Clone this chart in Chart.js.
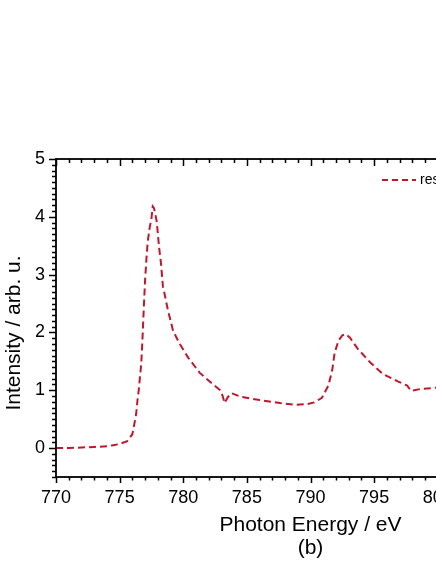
<!DOCTYPE html>
<html>
<head>
<meta charset="utf-8">
<script src="https://cdn.jsdelivr.net/npm/chart.js@4.4.7/dist/chart.umd.min.js"></script>
<style>
  html, body { margin: 0; padding: 0; background: #fff; overflow: hidden; }
  #wrap { position: relative; width: 620px; height: 564px; }
</style>
</head>
<body>
<div id="wrap"><canvas id="chart"></canvas></div>
<script>
const energies = [770, 771, 772, 773, 774, 774.5, 775, 775.6, 776.0, 776.1, 776.3, 776.4, 776.5, 776.7, 776.8, 776.9,
  777.0, 777.1, 777.2, 777.35, 777.5, 777.6, 777.7, 777.9, 778.0, 778.1, 778.25, 778.4, 778.5, 778.8, 779.2, 779.7,
  780.4, 781.3, 782.3, 782.9, 783.1, 783.25, 783.5, 783.8, 784.5, 786, 787.6, 788.8, 789.7, 790.3, 790.9, 791.4,
  791.7, 791.9, 792.2, 792.5, 792.8, 793.1, 793.7, 794.7, 795.7, 796.9, 797.6, 797.9, 798.6, 799.6, 800.5, 801.5]
const intensities = [0.0, 0.0, 0.01, 0.02, 0.03, 0.05, 0.07, 0.12, 0.24, 0.35, 0.59, 0.82, 1.0, 1.46, 1.91, 2.43,
  2.9, 3.25, 3.55, 3.8, 3.97, 4.18, 4.15, 3.94, 3.72, 3.47, 3.2, 2.8, 2.7, 2.38, 2.03, 1.81,
  1.56, 1.3, 1.11, 1.0, 0.9, 0.78, 0.88, 0.95, 0.89, 0.83, 0.78, 0.75, 0.76, 0.79, 0.87, 1.08,
  1.34, 1.65, 1.86, 1.95, 1.97, 1.91, 1.72, 1.48, 1.28, 1.15, 1.08, 0.99, 1.02, 1.04, 1.06, 1.07]
const seriesLabel = "result"
const xTitle = "Photon Energy / eV"
const xSubTitle = "(b)"
const yTitle = "Intensity / arb. u."

const FONT = "'Liberation Sans', Arial, sans-serif"
const RED = "#c0172c"

// axis frame + Origin-style minor ticks, titles and legend
const decorations = {
  id: "decorations",
  afterDraw(chart) {
    const { ctx, chartArea: a, scales: { x, y } } = chart
    ctx.save()
    ctx.strokeStyle = "#000"
    ctx.lineWidth = 1.5
    ctx.beginPath()
    for (let v = 770; v <= 810; v++) {
      const px = Math.round(x.getPixelForValue(v)) + 0.5
      const major = v % 5 === 0
      ctx.moveTo(px, a.bottom); ctx.lineTo(px, a.bottom + (major ? 6 : 3.5))
      ctx.moveTo(px, a.top); ctx.lineTo(px, a.top + (major ? 7 : 4))
    }
    for (let i = -5; i <= 50; i++) {
      const py = Math.round(y.getPixelForValue(i / 10)) + 0.5
      const major = i % 10 === 0
      ctx.moveTo(a.left, py); ctx.lineTo(a.left - (major ? 7 : 4), py)
    }
    ctx.stroke()
    ctx.lineWidth = 1.8
    ctx.strokeRect(a.left, a.top, a.right - a.left, a.bottom - a.top)

    ctx.fillStyle = "#000"
    ctx.textAlign = "center"
    ctx.textBaseline = "middle"
    ctx.font = "21px " + FONT
    const cx = (a.left + a.right) / 2
    ctx.fillText(xTitle, cx, 525)
    ctx.fillText(xSubTitle, cx, 548)
    ctx.save()
    ctx.translate(14, 333)
    ctx.rotate(-Math.PI / 2)
    ctx.fillText(yTitle, 0, 0)
    ctx.restore()

    // legend
    const ly = 180
    ctx.strokeStyle = RED
    ctx.lineWidth = 2
    ctx.setLineDash([6, 4])
    ctx.beginPath()
    ctx.moveTo(382, ly); ctx.lineTo(416, ly)
    ctx.stroke()
    ctx.setLineDash([])
    ctx.textAlign = "left"
    ctx.font = "14px " + FONT
    ctx.fillText(seriesLabel, 420, ly)
    ctx.restore()
  }
}

new Chart(document.getElementById("chart"), {
  type: "line",
  data: {
    datasets: [{
      label: seriesLabel,
      data: energies.map((e, i) => ({ x: e, y: intensities[i] })),
      borderColor: RED,
      borderWidth: 2,
      borderDash: [7, 4],
      pointRadius: 0,
      tension: 0,
      fill: false
    }]
  },
  options: {
    responsive: true,
    maintainAspectRatio: false,
    animation: false,
    layout: { padding: { top: 159, right: 55, left: 0, bottom: 0 } },
    plugins: { legend: { display: false }, tooltip: { enabled: false } },
    scales: {
      x: {
        type: "linear",
        min: 770,
        max: 810,
        grid: { display: false, drawTicks: false },
        border: { display: false },
        afterFit: s => { s.height = 87 },
        ticks: {
          stepSize: 5,
          padding: 10,
          color: "#000",
          font: { family: FONT, size: 18 }
        }
      },
      y: {
        min: -0.5,
        max: 5,
        grid: { display: false, drawTicks: false },
        border: { display: false },
        afterFit: s => { s.width = 56 },
        ticks: {
          stepSize: 1,
          padding: 11,
          color: "#000",
          font: { family: FONT, size: 18 },
          callback: v => Number.isInteger(v) ? v : ""
        }
      }
    }
  },
  plugins: [decorations]
})
</script>
</body>
</html>
